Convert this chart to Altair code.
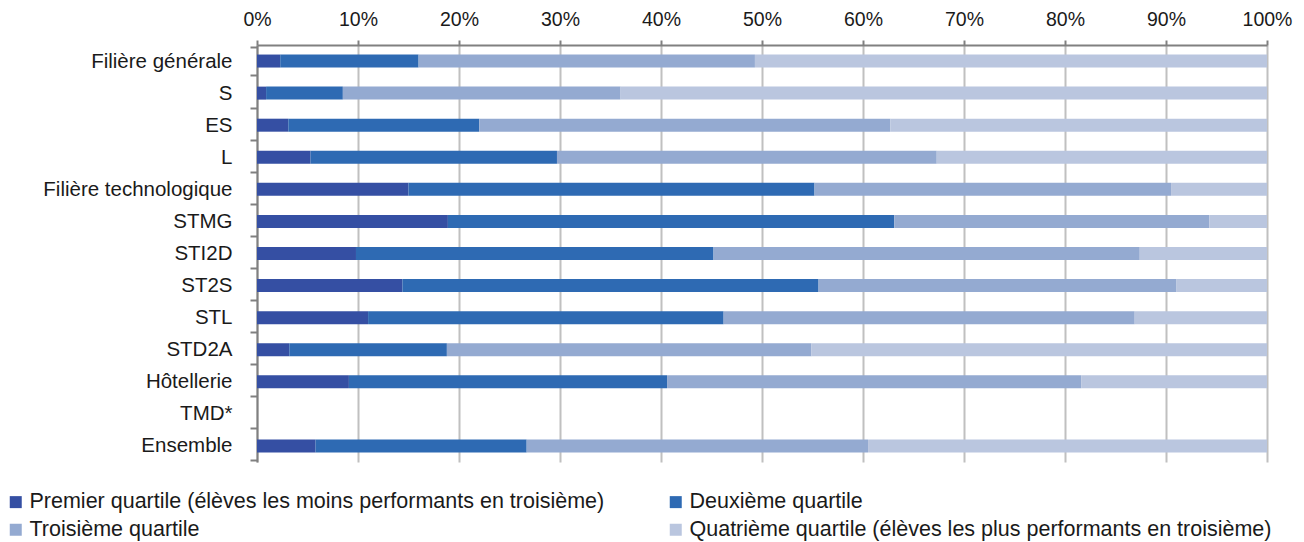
import altair as alt
import pandas as pd

categories = ["Filière générale", "S", "ES", "L", "Filière technologique", "STMG",
              "STI2D", "ST2S", "STL", "STD2A", "Hôtellerie", "TMD*", "Ensemble"]
quartiles = [
    "Premier quartile (élèves les moins performants en troisième)",
    "Deuxième quartile",
    "Troisième quartile",
    "Quatrième quartile (élèves les plus performants en troisième)",
]
colors = ["#354FA3", "#2E6AB3", "#94AAD1", "#BAC6DF"]

q1 = [2.3, 0.9, 3.1, 5.3, 15.0, 18.9, 9.8, 14.4, 11.0, 3.2, 9.1, None, 5.8]
q2 = [13.7, 7.6, 18.9, 24.4, 40.2, 44.2, 35.4, 41.2, 35.2, 15.6, 31.5, None, 20.9]
q3 = [33.3, 27.5, 40.7, 37.6, 35.3, 31.2, 42.2, 35.4, 40.7, 36.1, 41.0, None, 33.8]
q4 = [50.7, 64.0, 37.3, 32.7, 9.5, 5.7, 12.6, 9.0, 13.1, 45.1, 18.4, None, 39.5]

rows = []
for i, cat in enumerate(categories):
    for k, series in enumerate([q1, q2, q3, q4]):
        v = series[i]
        if v is None:
            continue
        rows.append({"categorie": cat, "quartile": quartiles[k], "ordre": k, "valeur": v})
df = pd.DataFrame(rows)

# legend laid out column by column: Q1, Q3 in the first column, Q2, Q4 in the second
legend_order = [0, 2, 1, 3]
dom = [quartiles[k] for k in legend_order]
rng = [colors[k] for k in legend_order]

FONT = "Liberation Sans"
TXT = "#1a1a1a"

chart = alt.Chart(df).mark_bar(size=13).encode(
    y=alt.Y("categorie:N", sort=categories, title=None,
            scale=alt.Scale(domain=categories),
            axis=alt.Axis(tickBand="extent", labelFontSize=20.5, labelPadding=18,
                          tickSize=7, tickColor="#808080", tickWidth=2,
                          domainColor="#808080", domainWidth=2, labelColor=TXT,
                          labelFont=FONT, labelLimit=400)),
    x=alt.X("valeur:Q", stack="normalize", title=None,
            scale=alt.Scale(domain=[0, 1], nice=False),
            axis=alt.Axis(orient="top", format=".0%", values=[i / 10 for i in range(11)],
                          labelFontSize=19.5, labelFont=FONT, labelColor=TXT,
                          labelPadding=11, tickSize=5, tickColor="#808080", tickWidth=2,
                          domainColor="#808080", domainWidth=2,
                          grid=True, gridColor="#C0C0C0", gridWidth=2,
                          labelFlush=False)),
    color=alt.Color("quartile:N",
                    scale=alt.Scale(domain=dom, range=rng),
                    legend=alt.Legend(title=None, orient="none", legendX=-252, legendY=446,
                                      padding=0, columns=2, columnPadding=60, rowPadding=5,
                                      symbolType="square", symbolSize=144, symbolStrokeWidth=0,
                                      labelFontSize=21.5, labelFont=FONT, labelColor=TXT,
                                      labelLimit=800, symbolOffset=0, labelOffset=3)),
    order=alt.Order("ordre:Q"),
).properties(
    width=1010, height=417,
    padding={"left": 249, "top": 37, "right": 28, "bottom": 82},
    autosize=alt.AutoSizeParams(type="none"),
).configure_view(stroke=None)

chart.save("out.html", embed_options={"renderer": "svg", "actions": False})
